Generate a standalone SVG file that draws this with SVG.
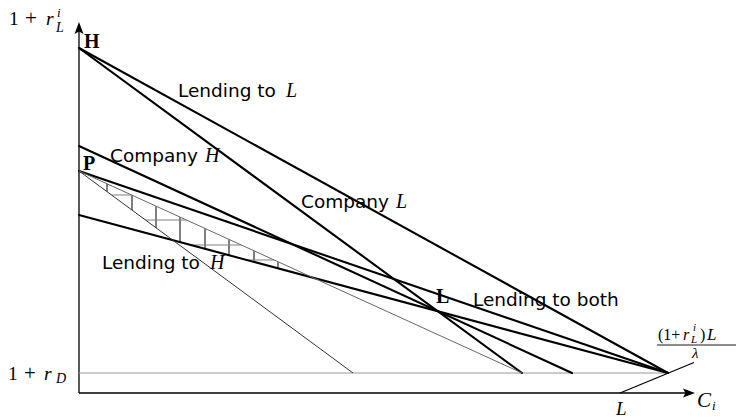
<svg xmlns="http://www.w3.org/2000/svg" width="739" height="418" viewBox="0 0 739 418">
<style>
.thick{stroke:#000;stroke-width:2.1;fill:none;stroke-linecap:round}
.axis{stroke:#000;stroke-width:1.3;fill:none}
.thin1{stroke:#333;stroke-width:1;fill:none}
.thin2{stroke:#666;stroke-width:1;fill:none}
.grayh{stroke:#999;stroke-width:1.2;fill:none}
.hv{stroke:#000;stroke-width:1;fill:none}
.hh{stroke:#808080;stroke-width:1.1;fill:none}
.lbl{font-family:"DejaVu Sans",sans-serif;font-size:18.5px;fill:#000}
.m{font-family:"Liberation Serif","DejaVu Serif",serif;font-style:italic;fill:#000}
.r{font-family:"Liberation Serif","DejaVu Serif",serif;fill:#000}
.b{font-family:"Liberation Serif","DejaVu Serif",serif;font-weight:bold;font-size:20px;fill:#000}
</style>
<defs>
<clipPath id="hatch"><polygon points="79,171 313,278 173,240"/></clipPath>
</defs>
<g id="axes">
<line class="axis" x1="79" y1="393" x2="79" y2="30"/>
<path d="M79,22 L83.5,34 L79,31.5 L74.5,34 Z" fill="#000"/>
<line class="axis" x1="79" y1="393" x2="686" y2="393"/>
<path d="M695,393 L683,388.5 L685.5,393 L683,397.5 Z" fill="#000"/>
<line class="grayh" x1="79" y1="373" x2="668" y2="373"/>
</g>
<g id="hatching" clip-path="url(#hatch)">
<line class="hv" x1="107" y1="150" x2="107" y2="300"/>
<line class="hv" x1="132" y1="150" x2="132" y2="300"/>
<line class="hv" x1="156" y1="150" x2="156" y2="300"/>
<line class="hv" x1="180" y1="150" x2="180" y2="300"/>
<line class="hv" x1="205" y1="150" x2="205" y2="300"/>
<line class="hv" x1="229" y1="150" x2="229" y2="300"/>
<line class="hv" x1="254" y1="150" x2="254" y2="300"/>
<line class="hv" x1="278" y1="150" x2="278" y2="300"/>
<line class="hh" x1="79" y1="195" x2="320" y2="195"/>
<line class="hh" x1="79" y1="220" x2="320" y2="220"/>
<line class="hh" x1="79" y1="245" x2="320" y2="245"/>
<line class="hh" x1="79" y1="260" x2="320" y2="260"/>
</g>
<g id="connectors">
<line class="thick" x1="79" y1="48" x2="668" y2="373"/>
<line class="thick" x1="79" y1="48" x2="522" y2="373"/>
<line class="thick" x1="79" y1="146" x2="572" y2="373"/>
<line class="thick" x1="79" y1="171" x2="668" y2="373"/>
<line class="thick" x1="79" y1="215" x2="668" y2="373"/>
<line class="thin1" x1="79" y1="171" x2="353" y2="373"/>
<line class="thin2" x1="79" y1="171" x2="522" y2="373"/>
<line stroke="#000" stroke-width="1.2" x1="620" y1="393" x2="694" y2="362.5"/>
</g>
<g id="point-H"><text class="b" x="84" y="48">H</text></g>
<g id="point-P"><text class="b" x="83" y="170">P</text></g>
<g id="point-L"><text class="b" x="436" y="303">L</text></g>
<g id="label-lending-L"><text class="lbl" x="178" y="97">Lending to</text><text class="m" x="286" y="97" font-size="20">L</text></g>
<g id="label-company-H"><text class="lbl" x="110" y="162">Company</text><text class="m" x="205" y="162" font-size="20">H</text></g>
<g id="label-company-L"><text class="lbl" x="301" y="208">Company</text><text class="m" x="396" y="208" font-size="20">L</text></g>
<g id="label-lending-H"><text class="lbl" x="102" y="269">Lending to</text><text class="m" x="210" y="269" font-size="20">H</text></g>
<g id="label-lending-both"><text class="lbl" x="473" y="306">Lending to both</text></g>
<g id="y-label">
<text class="r" x="9" y="25" font-size="19.5">1</text>
<text class="r" x="25" y="25" font-size="21">+</text>
<text class="m" x="46" y="25" font-size="19.5">r</text>
<text class="m" x="57" y="17" font-size="13">i</text>
<text class="m" x="56" y="32" font-size="14">L</text>
</g>
<g id="rd-label">
<text class="r" x="8" y="380" font-size="19.5">1</text>
<text class="r" x="24" y="380" font-size="21">+</text>
<text class="m" x="44" y="380" font-size="19.5">r</text>
<text class="m" x="56" y="383" font-size="14">D</text>
</g>
<g id="x-label">
<text class="m" x="697" y="407" font-size="21">C</text>
<text class="m" x="712" y="410" font-size="13">i</text>
</g>
<g id="L-label"><text class="m" x="616" y="415" font-size="19">L</text></g>
<g id="fraction-label">
<text class="r" x="658" y="340" font-size="16">(1+</text>
<text class="m" x="683" y="340" font-size="16">r</text>
<text class="m" x="693" y="331" font-size="11">i</text>
<text class="m" x="691" y="343" font-size="11">L</text>
<text class="r" x="700" y="340" font-size="16">)</text>
<text class="m" x="707" y="340" font-size="17">L</text>
<line stroke="#000" stroke-width="0.9" x1="657" y1="345" x2="736" y2="345"/>
<text class="m" x="692" y="358" font-size="15">λ</text>
</g>
</svg>
